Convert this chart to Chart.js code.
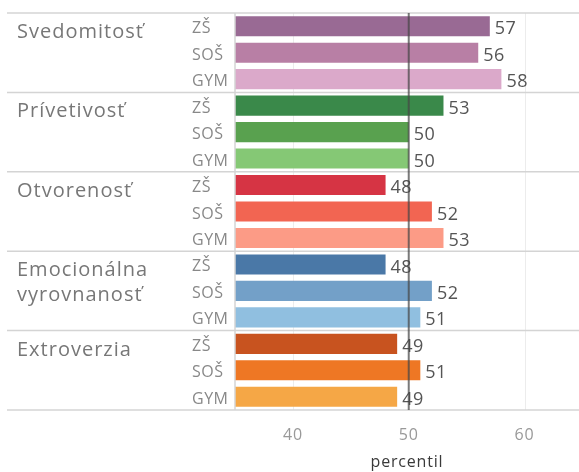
<!DOCTYPE html>
<html>
<head>
<meta charset="utf-8">
<script src="https://cdn.jsdelivr.net/npm/chart.js@4.4.0/dist/chart.umd.min.js"></script>
<style>
  html, body { margin: 0; padding: 0; background: #fff; }
  #wrap { width: 579px; height: 472px; position: relative; }
</style>
</head>
<body>
<div id="wrap"><canvas id="c" width="579" height="472"></canvas></div>
<script>
// ---- data ----
const categories = [["Svedomitosť"], ["Prívetivosť"], ["Otvorenosť"], ["Emocionálna", "vyrovnanosť"], ["Extroverzia"]];
const schools = ["ZŠ", "SOŠ", "GYM"];
const svedomitost = [57, 56, 58];
const privetivost = [53, 50, 50];
const otvorenost = [48, 52, 53];
const emocionalna = [48, 52, 51];
const extroverzia = [49, 51, 49];
const xTicks = [40, 50, 60];
const referenceValue = 50;
const xTitle = "percentil";

const colors = [
  ["#996a94", "#b87fa5", "#dba9ca"],
  ["#3a894a", "#59a14f", "#85c875"],
  ["#d63444", "#f26552", "#fc9b86"],
  ["#4a78a7", "#73a0c8", "#90bfe0"],
  ["#c8531f", "#ee7724", "#f5a746"]
];

const seriesByCat = [svedomitost, privetivost, otvorenost, emocionalna, extroverzia];
const labels = [];
const values = [];
const barColors = [];
seriesByCat.forEach((s, ci) => {
  s.forEach((v, si) => {
    labels.push(schools[si]);
    values.push(v);
    barColors.push(colors[ci][si]);
  });
});

const FONT = "'Open Sans', 'Noto Sans', sans-serif";

const overlay = {
  id: 'overlay',
  beforeDraw(chart) {
    chart.ctx.letterSpacing = '0.8px';
  },
  beforeDatasetsDraw(chart) {
    const { ctx, chartArea: a } = chart;
    const x = chart.scales.x;
    ctx.save();
    ctx.strokeStyle = '#ececec';
    ctx.lineWidth = 1;
    xTicks.forEach(t => {
      if (t === referenceValue) return;
      const px = Math.round(x.getPixelForValue(t)) + 0.5;
      ctx.beginPath(); ctx.moveTo(px, a.top); ctx.lineTo(px, a.bottom); ctx.stroke();
    });
    ctx.restore();
  },
  afterDatasetsDraw(chart) {
    const { ctx, chartArea: a } = chart;
    const x = chart.scales.x;
    ctx.save();

    // separators
    const rowH = (a.bottom - a.top) / values.length;
    ctx.strokeStyle = '#d4d4d4';
    ctx.lineWidth = 1.5;
    for (let g = 0; g <= categories.length; g++) {
      const py = a.top + g * 3 * rowH;
      ctx.beginPath(); ctx.moveTo(7, py); ctx.lineTo(a.right, py); ctx.stroke();
    }
    ctx.beginPath(); ctx.moveTo(a.left, a.top); ctx.lineTo(a.left, a.bottom); ctx.stroke();

    // category labels
    ctx.fillStyle = '#777';
    ctx.letterSpacing = '1px';
    ctx.font = "20px " + FONT;
    ctx.textAlign = 'left';
    ctx.textBaseline = 'alphabetic';
    categories.forEach((lines, g) => {
      const top = a.top + g * 3 * rowH;
      lines.forEach((t, li) => ctx.fillText(t, 17, top + 25 + li * 25));
    });

    // sub labels (school types)
    const meta = chart.getDatasetMeta(0);
    ctx.fillStyle = '#888';
    ctx.letterSpacing = '0.5px';
    ctx.font = "16px " + FONT;
    ctx.textBaseline = 'middle';
    meta.data.forEach((bar, i) => {
      ctx.fillText(labels[i], 192, bar.y + 2.5);
    });

    // value labels
    ctx.fillStyle = '#555';
    ctx.letterSpacing = '0.5px';
    ctx.font = "18px " + FONT;
    ctx.textBaseline = 'middle';
    meta.data.forEach((bar, i) => {
      ctx.fillText(String(values[i]), bar.x + 5, bar.y + 3);
    });

    // reference line (on top)
    const rx = x.getPixelForValue(referenceValue);
    ctx.strokeStyle = 'rgba(70,70,70,0.72)';
    ctx.lineWidth = 2;
    ctx.beginPath(); ctx.moveTo(rx, a.top); ctx.lineTo(rx, a.bottom); ctx.stroke();
    ctx.restore();
  }
};

new Chart(document.getElementById('c'), {
  type: 'bar',
  data: {
    labels: labels,
    datasets: [{
      data: values,
      backgroundColor: barColors,
      borderWidth: 0,
      barPercentage: 0.76,
      categoryPercentage: 1.0
    }]
  },
  options: {
    indexAxis: 'y',
    responsive: false,
    animation: false,
    layout: { padding: { top: 13, right: 0, left: 0, bottom: 0 } },
    plugins: { legend: { display: false }, tooltip: { enabled: false } },
    scales: {
      x: {
        min: 35,
        max: 64.7,
        afterBuildTicks(scale) { scale.ticks = xTicks.map(v => ({ value: v })); },
        afterFit(scale) { scale.height = 62; },
        grid: { display: false, drawTicks: false },
        border: { display: false },
        ticks: { color: '#999', font: { size: 16, family: FONT }, padding: 16 },
        title: { display: true, text: xTitle, color: '#3a3a3a', font: { size: 16, family: FONT, weight: '500' }, padding: { top: 0, bottom: 0 } }
      },
      y: {
        afterFit(scale) { scale.width = 235; },
        grid: { display: false, drawTicks: false },
        border: { display: false },
        ticks: { display: false, autoSkip: false }
      }
    }
  },
  plugins: [overlay]
});
</script>
</body>
</html>
